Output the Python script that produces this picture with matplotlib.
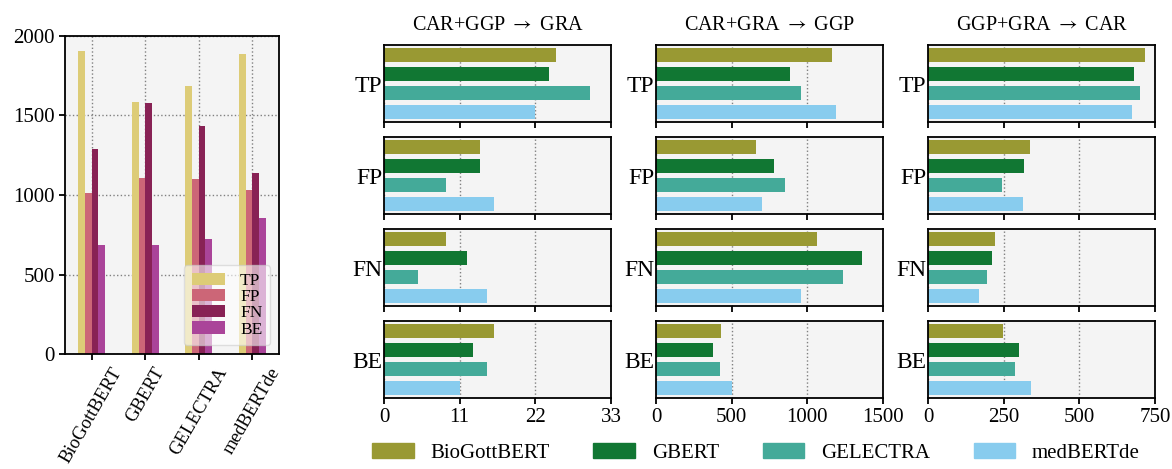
import numpy as np
import matplotlib
matplotlib.use("Agg")
import matplotlib.pyplot as plt

plt.rcParams['font.family'] = ['Liberation Serif', 'DejaVu Serif']
plt.rcParams['mathtext.fontset'] = 'stix'

# overall counts per model (left chart)
models = ["BioGottBERT", "GBERT", "GELECTRA", "medBERTde"]
error_types = ["TP", "FP", "FN", "BE"]
tp_total = [1904, 1584, 1684, 1887]
fp_total = [1010, 1107, 1100, 1031]
fn_total = [1289, 1577, 1433, 1138]
be_total = [686, 686, 724, 856]

# per split counts, order of models: BioGottBERT, GBERT, GELECTRA, medBERTde
splits = [r"CAR+GGP $\rightarrow$ GRA", r"CAR+GRA $\rightarrow$ GGP", r"GGP+GRA $\rightarrow$ CAR"]
gra_tp = [25, 24, 30, 22]
gra_fp = [14, 14, 9, 16]
gra_fn = [9, 12, 5, 15]
gra_be = [16, 13, 15, 11]
ggp_tp = [1163, 885, 957, 1189]
ggp_fp = [660, 779, 852, 699]
ggp_fn = [1063, 1361, 1235, 957]
ggp_be = [428, 375, 421, 501]
car_tp = [718, 681, 701, 674]
car_fp = [338, 318, 244, 314]
car_fn = [221, 211, 194, 168]
car_be = [248, 301, 288, 341]
split_ticks = [[0, 11, 22, 33], [0, 500, 1000, 1500], [0, 250, 500, 750]]

type_colors = ["#DDCC77", "#CC6677", "#882255", "#AA4499"]
model_colors = ["#999933", "#117733", "#44AA99", "#88CCEE"]
bg = "#f4f4f4"

fig = plt.figure(figsize=(11.72, 4.69), dpi=100)
W, H = 1172, 469

def px_axes(x0, y0, x1, y1):
    return fig.add_axes([x0 / W, 1 - y1 / H, (x1 - x0) / W, (y1 - y0) / H])

def style(ax):
    ax.set_facecolor(bg)
    for s in ax.spines.values():
        s.set_linewidth(1.3)
    ax.set_axisbelow(True)

# ---- left grouped bar chart
ax = px_axes(65, 36, 279, 354)
style(ax)
x = np.arange(len(models))
w = 0.125
totals = [tp_total, fp_total, fn_total, be_total]
for i, (vals, lab) in enumerate(zip(totals, error_types)):
    ax.bar(x + (i - 1.5) * w, vals, w, color=type_colors[i], label=lab)
ax.set_xlim(-0.5, 3.5)
ax.set_ylim(0, 2000)
ax.set_yticks([0, 500, 1000, 1500, 2000])
ax.set_xticks(x)
ax.set_xticklabels(models, rotation=60)
ax.tick_params(labelsize=15, width=1.3, length=4)
ax.tick_params(axis="x", labelsize=13.5)
ax.grid(True, linestyle=":", color="gray", linewidth=1)
ax.legend(loc="lower right", fontsize=12.5, labelspacing=0.0, handlelength=1.9,
          handletextpad=0.9, framealpha=0.6, borderpad=0.45, borderaxespad=0.5)

# ---- right panel grid
split_data = [
    [gra_tp, gra_fp, gra_fn, gra_be],
    [ggp_tp, ggp_fp, ggp_fn, ggp_be],
    [car_tp, car_fp, car_fn, car_be],
]
col_x = [384, 656, 928]
row_y = [45, 137, 229, 321]
pw, ph = 227, 77
pos = np.arange(len(models))
for c, split in enumerate(splits):
    ticks = split_ticks[c]
    for r, et in enumerate(error_types):
        a = px_axes(col_x[c], row_y[r], col_x[c] + pw, row_y[r] + ph)
        style(a)
        a.barh(pos, split_data[c][r], height=0.72, color=model_colors)
        a.set_ylim(3.5, -0.5)
        a.set_xlim(ticks[0], ticks[-1])
        a.set_xticks(ticks)
        a.set_yticks([1.5])
        a.set_yticklabels([et])
        a.tick_params(axis="y", length=0, pad=1, labelsize=17)
        a.tick_params(axis="x", width=1.3, length=4, labelsize=15)
        a.grid(True, axis="x", linestyle=":", color="gray", linewidth=1)
        if r < 3:
            a.set_xticklabels([])
        if r == 0:
            a.set_title(split, fontsize=14.5, pad=11)

handles = [plt.Rectangle((0, 0), 1, 1, color=col) for col in model_colors]
fig.legend(handles, models, loc="center", bbox_to_anchor=(756 / W, 1 - 453 / H),
           ncol=4, frameon=False, fontsize=15, handlelength=2.0, handleheight=0.7,
           handletextpad=0.8, columnspacing=2.1)

fig.savefig("out.png", dpi=100)
